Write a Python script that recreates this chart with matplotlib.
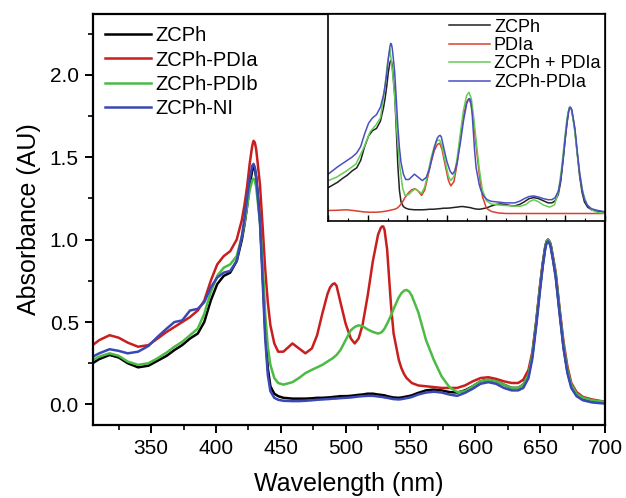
import matplotlib
matplotlib.use("Agg")
import matplotlib.pyplot as plt
from matplotlib.ticker import MultipleLocator, NullLocator, FormatStrFormatter

plt.rcParams['font.family'] = ['Liberation Sans', 'DejaVu Sans']

# main panel: wavelength grid (nm) shared by the four spectra
wl = [305, 310, 318, 325, 332, 340, 348, 355, 362, 368, 374, 380, 386, 391, 396,
      401, 406, 411, 416, 420, 422, 424, 426, 428, 429, 430, 431, 432, 434, 436,
      438, 440, 442, 445, 448, 452, 459, 464, 469, 474, 478, 482, 486, 488, 490,
      491.5, 493, 496, 500, 504, 507, 510, 513, 517, 521, 525, 527, 528, 529, 530,
      532, 535, 537, 541, 543, 545, 547, 549, 551, 556, 562, 568, 574, 580, 586,
      592, 598, 604, 610, 616, 622, 628, 633, 637, 641, 644, 647, 650, 652, 654,
      655, 656, 657, 658, 660, 662, 665, 668, 671, 674, 678, 683, 690, 700]

zcph = [0.25, 0.275, 0.30, 0.285, 0.25, 0.225, 0.235, 0.265, 0.295, 0.33, 0.36, 0.40, 0.43, 0.50, 0.63,
        0.73, 0.78, 0.80, 0.87, 1.00, 1.09, 1.20, 1.33, 1.42, 1.44, 1.43, 1.38, 1.30, 1.12, 0.80,
        0.45, 0.22, 0.11, 0.065, 0.05, 0.04, 0.035, 0.035, 0.035, 0.037, 0.04, 0.04, 0.042, 0.043, 0.045,
        0.046, 0.047, 0.05, 0.05, 0.052, 0.055, 0.058, 0.06, 0.065, 0.065, 0.06, 0.058, 0.057, 0.056, 0.055,
        0.05, 0.045, 0.042, 0.04, 0.042, 0.045, 0.048, 0.051, 0.055, 0.07, 0.085, 0.09, 0.085, 0.075, 0.072,
        0.085, 0.11, 0.14, 0.15, 0.14, 0.12, 0.10, 0.10, 0.12, 0.18, 0.30, 0.50, 0.72, 0.85, 0.96,
        0.99, 1.00, 0.99, 0.97, 0.88, 0.78, 0.56, 0.35, 0.20, 0.11, 0.06, 0.035, 0.022, 0.012]

zcph_pdia = [0.36, 0.39, 0.42, 0.405, 0.375, 0.35, 0.36, 0.40, 0.44, 0.47, 0.50, 0.53, 0.57, 0.63, 0.75,
             0.85, 0.90, 0.93, 1.00, 1.12, 1.21, 1.32, 1.46, 1.57, 1.60, 1.59, 1.55, 1.48, 1.33, 1.08,
             0.82, 0.62, 0.48, 0.37, 0.32, 0.32, 0.37, 0.34, 0.31, 0.34, 0.42, 0.55, 0.67, 0.71, 0.73,
             0.735, 0.72, 0.62, 0.49, 0.40, 0.37, 0.40, 0.48, 0.66, 0.87, 1.03, 1.07, 1.08, 1.08, 1.06,
             0.94, 0.60, 0.43, 0.27, 0.22, 0.185, 0.16, 0.145, 0.13, 0.115, 0.11, 0.105, 0.10, 0.10, 0.10,
             0.115, 0.14, 0.16, 0.165, 0.155, 0.14, 0.13, 0.13, 0.15, 0.21, 0.32, 0.51, 0.73, 0.86, 0.96,
             0.99, 1.00, 0.99, 0.975, 0.89, 0.80, 0.58, 0.38, 0.23, 0.13, 0.075, 0.045, 0.03, 0.016]

zcph_pdib = [0.27, 0.29, 0.31, 0.295, 0.26, 0.24, 0.25, 0.28, 0.315, 0.35, 0.38, 0.42, 0.46, 0.55, 0.68,
             0.78, 0.83, 0.85, 0.90, 1.02, 1.10, 1.20, 1.30, 1.36, 1.37, 1.36, 1.32, 1.25, 1.10, 0.85,
             0.55, 0.35, 0.24, 0.16, 0.13, 0.12, 0.135, 0.16, 0.19, 0.21, 0.225, 0.24, 0.26, 0.27, 0.28,
             0.29, 0.30, 0.33, 0.39, 0.45, 0.47, 0.48, 0.475, 0.455, 0.44, 0.43, 0.435, 0.44, 0.45, 0.46,
             0.49, 0.54, 0.58, 0.65, 0.675, 0.69, 0.695, 0.685, 0.66, 0.56, 0.39, 0.27, 0.17, 0.105, 0.075,
             0.08, 0.11, 0.14, 0.15, 0.14, 0.12, 0.10, 0.10, 0.12, 0.18, 0.30, 0.50, 0.72, 0.85, 0.96,
             0.99, 1.00, 0.99, 0.97, 0.88, 0.79, 0.57, 0.36, 0.21, 0.12, 0.065, 0.04, 0.025, 0.015]

zcph_ni = [0.29, 0.31, 0.335, 0.325, 0.31, 0.32, 0.355, 0.41, 0.46, 0.50, 0.51, 0.57, 0.58, 0.62, 0.71,
           0.77, 0.80, 0.81, 0.87, 1.02, 1.13, 1.25, 1.37, 1.45, 1.46, 1.44, 1.38, 1.29, 1.10, 0.75,
           0.40, 0.18, 0.08, 0.04, 0.028, 0.022, 0.02, 0.02, 0.022, 0.025, 0.028, 0.03, 0.032, 0.033, 0.035,
           0.035, 0.036, 0.038, 0.04, 0.042, 0.045, 0.048, 0.05, 0.052, 0.052, 0.048, 0.046, 0.045, 0.044, 0.042,
           0.04, 0.035, 0.032, 0.03, 0.032, 0.035, 0.038, 0.041, 0.045, 0.06, 0.072, 0.077, 0.072, 0.06, 0.052,
           0.07, 0.095, 0.125, 0.135, 0.125, 0.10, 0.085, 0.085, 0.10, 0.16, 0.28, 0.48, 0.70, 0.84, 0.95,
           0.98, 0.99, 0.98, 0.96, 0.87, 0.77, 0.55, 0.34, 0.19, 0.10, 0.05, 0.025, 0.012, 0.005]

# inset: PDIa alone and the sum spectrum ZCPh + PDIa
inset_wl = [350, 360, 373, 385, 395, 403, 410, 416, 421, 425, 428, 431, 434, 437, 440,
            444, 447, 452, 456, 460, 464, 468, 472, 476, 480, 484, 488, 491, 494, 498,
            502, 505, 509, 513, 517, 521, 525, 528, 531, 534, 538, 541, 545, 550, 556,
            565, 575, 585, 593, 600, 605, 610, 616, 622, 630, 636, 641, 645, 649, 652,
            655, 658, 661, 664, 668, 672, 677, 683, 690, 700]

pdia = [0.028, 0.03, 0.035, 0.025, 0.015, 0.012, 0.012, 0.015, 0.02, 0.025, 0.03, 0.035, 0.04, 0.05, 0.07,
        0.11, 0.15, 0.20, 0.225, 0.233, 0.21, 0.17, 0.22, 0.35, 0.48, 0.59, 0.65, 0.66, 0.60, 0.45,
        0.31, 0.26, 0.30, 0.47, 0.71, 0.92, 1.05, 1.08, 1.02, 0.85, 0.57, 0.37, 0.16, 0.05, 0.02,
        0.005, 0.0, 0.0, 0.0, 0.0, 0.0, 0.0, 0.0, 0.0, 0.0, 0.0, 0.0, 0.0, 0.0, 0.0,
        0.0, 0.0, 0.0, 0.0, 0.0, 0.0, 0.0, 0.0, 0.0, 0.0]

zcph_plus_pdia = [0.31, 0.34, 0.40, 0.465, 0.62, 0.77, 0.83, 0.90, 1.15, 1.42, 1.545, 1.35, 1.10, 0.75, 0.47,
                  0.24, 0.17, 0.18, 0.21, 0.23, 0.21, 0.19, 0.25, 0.38, 0.52, 0.63, 0.69, 0.69, 0.63, 0.49,
                  0.35, 0.31, 0.35, 0.52, 0.75, 0.97, 1.11, 1.14, 1.08, 0.90, 0.62, 0.42, 0.22, 0.12, 0.09,
                  0.08, 0.075, 0.07, 0.068, 0.085, 0.115, 0.13, 0.11, 0.08, 0.06, 0.08, 0.20, 0.42, 0.70, 0.90,
                  1.00, 0.97, 0.82, 0.62, 0.38, 0.20, 0.09, 0.035, 0.012, 0.002]

fig = plt.figure(figsize=(6.26, 4.98), dpi=100)
ax = fig.add_axes([0.1481, 0.1466, 0.8184, 0.8253])

kw = dict(lw=1.8, solid_joinstyle='round')
ax.plot(wl, zcph, color='#000000', label='ZCPh', **kw)
ax.plot(wl, zcph_pdia, color='#c81e1e', label='ZCPh-PDIa', **kw)
ax.plot(wl, zcph_pdib, color='#4cbb44', label='ZCPh-PDIb', **kw)
ax.plot(wl, zcph_ni, color='#3a48b4', label='ZCPh-NI', **kw)

ax.set_xlim(305, 700)
ax.set_ylim(-0.125, 2.37)
ax.xaxis.set_major_locator(MultipleLocator(50))
ax.xaxis.set_minor_locator(MultipleLocator(25))
ax.yaxis.set_major_locator(MultipleLocator(0.5))
ax.yaxis.set_minor_locator(MultipleLocator(0.25))
ax.yaxis.set_major_formatter(FormatStrFormatter('%.1f'))
ax.tick_params(which='major', direction='out', length=6, width=1.4, labelsize=15, pad=4)
ax.tick_params(which='minor', direction='out', length=3.5, width=1.2)
ax.tick_params(top=False, right=False)
for s in ax.spines.values():
    s.set_linewidth(1.6)

ax.set_xlabel('Wavelength (nm)', fontsize=18, labelpad=10)
ax.set_ylabel('Absorbance (AU)', fontsize=18, labelpad=6)

ax.legend(loc='upper left', frameon=False, fontsize=14.5, handlelength=2.3,
          handletextpad=0.2, labelspacing=0.27, borderaxespad=0.3, borderpad=0.3)

# inset
axin = fig.add_axes([0.5244, 0.5572, 0.442, 0.4147])
ikw = dict(lw=1.1, solid_joinstyle='round')
axin.plot(wl, zcph, color='#222222', label='ZCPh', **ikw)
axin.plot(inset_wl, pdia, color='#d8402f', label='PDIa', **ikw)
axin.plot(inset_wl, zcph_plus_pdia, color='#66cc55', label='ZCPh + PDIa', **ikw)
axin.plot(wl, zcph_pdia, color='#4a4fc0', label='ZCPh-PDIa', **ikw)
axin.set_xlim(350, 700)
axin.set_ylim(-0.066, 1.877)
axin.xaxis.set_major_locator(MultipleLocator(50))
axin.xaxis.set_minor_locator(MultipleLocator(25))
axin.yaxis.set_major_locator(NullLocator())
axin.yaxis.set_minor_locator(NullLocator())
axin.tick_params(axis='x', which='major', direction='in', length=4, width=1.0, labelbottom=False)
axin.tick_params(axis='x', which='minor', direction='in', length=2.5, width=0.8)
for s in axin.spines.values():
    s.set_linewidth(1.2)
axin.legend(loc='upper right', frameon=False, fontsize=13, handlelength=2.3,
            handletextpad=0.2, labelspacing=0.08, borderaxespad=0.1, borderpad=0.15)

fig.savefig('out.png', dpi=100)
